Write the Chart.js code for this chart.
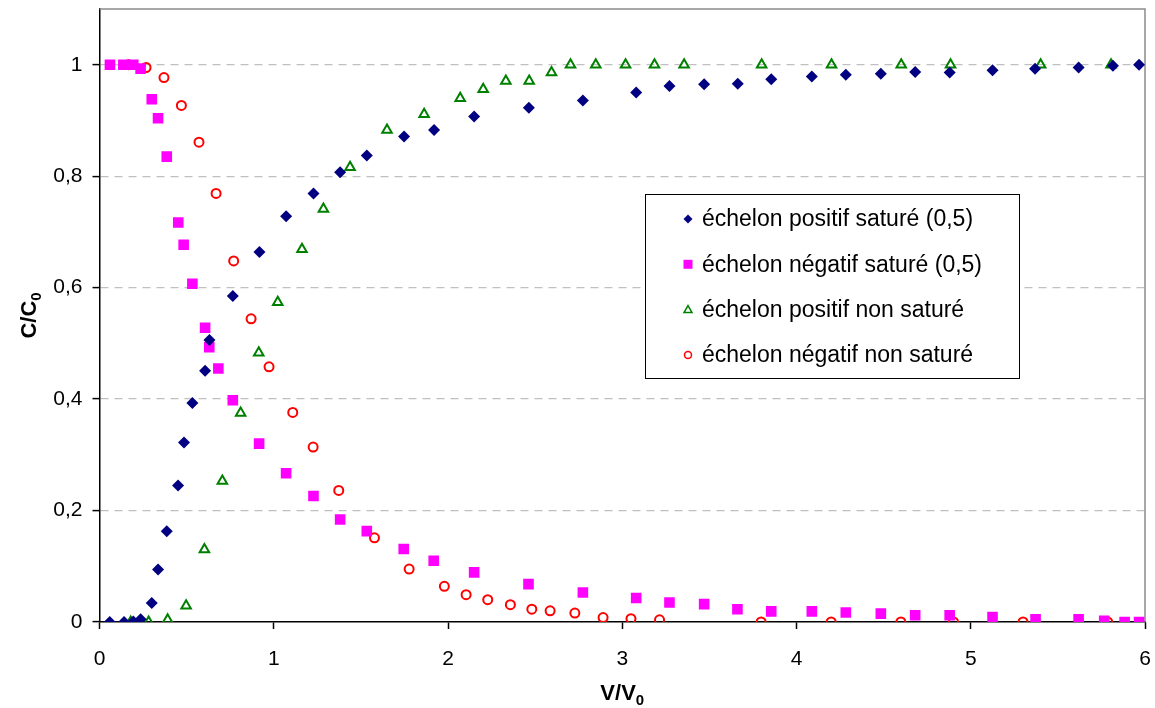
<!DOCTYPE html>
<html>
<head>
<meta charset="utf-8">
<script src="https://cdn.jsdelivr.net/npm/chart.js@4/dist/chart.umd.min.js"></script>
<style>
  html, body { margin: 0; padding: 0; background: #fff; }
  #wrap { width: 1155px; height: 708px; position: relative; }
</style>
</head>
<body>
<div id="wrap"><canvas id="myChart"></canvas></div>
<script>
// --- données ---
const posSatX = [0.059, 0.141, 0.194, 0.236, 0.30, 0.336, 0.386, 0.451, 0.485, 0.533, 0.606, 0.631, 0.765, 0.918, 1.071, 1.228, 1.381, 1.534, 1.748, 1.920, 2.150, 2.464, 2.774, 3.080, 3.271, 3.470, 3.663, 3.855, 4.088, 4.283, 4.484, 4.681, 4.879, 5.125, 5.369, 5.619, 5.816, 5.966];
const posSatY = [0, 0, 0.001, 0.005, 0.034, 0.094, 0.163, 0.245, 0.322, 0.393, 0.451, 0.506, 0.585, 0.664, 0.728, 0.769, 0.807, 0.837, 0.871, 0.883, 0.907, 0.923, 0.936, 0.950, 0.962, 0.965, 0.966, 0.974, 0.979, 0.982, 0.984, 0.987, 0.986, 0.990, 0.993, 0.995, 0.998, 1.0];

const negSatX = [0.060, 0.137, 0.194, 0.236, 0.300, 0.336, 0.386, 0.452, 0.483, 0.533, 0.606, 0.630, 0.682, 0.765, 0.916, 1.071, 1.228, 1.381, 1.534, 1.746, 1.918, 2.150, 2.462, 2.774, 3.080, 3.271, 3.470, 3.661, 3.855, 4.088, 4.283, 4.484, 4.681, 4.879, 5.125, 5.372, 5.619, 5.766, 5.883, 5.966];
const negSatY = [1.0, 1.0, 1.0, 0.993, 0.938, 0.904, 0.835, 0.717, 0.677, 0.607, 0.528, 0.493, 0.455, 0.398, 0.320, 0.267, 0.226, 0.184, 0.163, 0.131, 0.110, 0.089, 0.068, 0.053, 0.043, 0.035, 0.032, 0.023, 0.019, 0.019, 0.017, 0.015, 0.012, 0.012, 0.009, 0.005, 0.005, 0.002, 0, 0];

const posNonX = [0.179, 0.282, 0.391, 0.497, 0.602, 0.705, 0.810, 0.914, 1.023, 1.162, 1.285, 1.438, 1.650, 1.863, 2.070, 2.202, 2.332, 2.466, 2.594, 2.703, 2.848, 3.019, 3.185, 3.355, 3.800, 4.201, 4.601, 4.884, 5.401, 5.805];
const posNonY = [0, 0, 0.004, 0.029, 0.130, 0.253, 0.375, 0.483, 0.574, 0.669, 0.741, 0.816, 0.883, 0.911, 0.940, 0.956, 0.971, 0.971, 0.986, 1.0, 1.0, 1.0, 1.0, 1.0, 1.0, 1.0, 1.0, 1.0, 1.0, 1.0];

const negNonX = [0.167, 0.267, 0.370, 0.470, 0.571, 0.669, 0.770, 0.870, 0.973, 1.109, 1.226, 1.373, 1.578, 1.777, 1.979, 2.104, 2.228, 2.358, 2.481, 2.586, 2.728, 2.890, 3.050, 3.214, 3.797, 4.199, 4.599, 4.901, 5.300, 5.786];
const negNonY = [1.0, 0.995, 0.977, 0.927, 0.861, 0.769, 0.648, 0.544, 0.458, 0.376, 0.314, 0.236, 0.151, 0.095, 0.064, 0.049, 0.040, 0.031, 0.023, 0.020, 0.016, 0.008, 0.006, 0.004, 0, 0, 0, 0, 0, 0];

const seriesLabels = ['échelon positif saturé (0,5)', 'échelon négatif saturé (0,5)', 'échelon positif non saturé', 'échelon négatif non saturé'];
const xTicks = [0, 1, 2, 3, 4, 5, 6];
const yTicks = [0, 0.2, 0.4, 0.6, 0.8, 1];

const toPoints = (xs, ys) => xs.map((x, i) => ({ x: x, y: ys[i] }));
const FONT = "'Liberation Sans', Arial, sans-serif";

// cadre gris + titres d'axes avec indice + légende dans la zone du graphique
const decorPlugin = {
    id: 'decor',
    beforeDatasetsDraw(chart) {
        const { ctx, chartArea: a } = chart;
        ctx.save();
        ctx.strokeStyle = '#8c8c8c';
        ctx.lineWidth = 1.5;
        ctx.beginPath();
        ctx.moveTo(a.left, a.top);
        ctx.lineTo(a.right, a.top);
        ctx.lineTo(a.right, a.bottom);
        ctx.stroke();
        ctx.restore();
    },
    afterDraw(chart) {
        const { ctx, chartArea: a } = chart;
        ctx.save();
        ctx.fillStyle = '#000';
        ctx.textBaseline = 'alphabetic';

        // titres des axes (avec indice 0)
        const drawSub = (main, sub, cx, cy) => {
            ctx.font = 'bold 22px ' + FONT;
            const w1 = ctx.measureText(main).width;
            ctx.font = 'bold 15px ' + FONT;
            const w2 = ctx.measureText(sub).width;
            const x0 = cx - (w1 + w2) / 2;
            ctx.font = 'bold 22px ' + FONT;
            ctx.textAlign = 'left';
            ctx.fillText(main, x0, cy);
            ctx.font = 'bold 15px ' + FONT;
            ctx.fillText(sub, x0 + w1, cy + 5);
        };
        drawSub('V/V', '0', (a.left + a.right) / 2, 700);
        ctx.save();
        ctx.translate(36, (a.top + a.bottom) / 2);
        ctx.rotate(-Math.PI / 2);
        drawSub('C/C', '0', 0, 0);
        ctx.restore();

        // légende
        const lx = 645, ly = 194, lw = 374, lh = 184;
        ctx.fillStyle = '#fff';
        ctx.fillRect(lx, ly, lw, lh);
        ctx.strokeStyle = '#000';
        ctx.lineWidth = 1;
        ctx.strokeRect(lx + 0.5, ly + 0.5, lw, lh);
        chart.data.datasets.forEach((ds, i) => {
            const y = 219 + i * 45.3;
            const mx = 688;
            ctx.beginPath();
            ctx.fillStyle = ds.pointBackgroundColor;
            ctx.strokeStyle = ds.pointBorderColor;
            ctx.lineWidth = 1.5;
            if (ds.pointStyle === 'rectRot') {
                ctx.moveTo(mx - 4.5, y); ctx.lineTo(mx, y - 4.5); ctx.lineTo(mx + 4.5, y); ctx.lineTo(mx, y + 4.5);
                ctx.closePath(); ctx.fill();
            } else if (ds.pointStyle === 'rect') {
                ctx.rect(mx - 4.5, y - 4.5, 9, 9); ctx.fill();
            } else if (ds.pointStyle === 'triangle') {
                ctx.moveTo(mx, y - 4); ctx.lineTo(mx + 4, y + 3); ctx.lineTo(mx - 4, y + 3);
                ctx.closePath(); ctx.stroke();
            } else {
                ctx.arc(mx, y, 3.5, 0, Math.PI * 2); ctx.stroke();
            }
            ctx.fillStyle = '#000';
            ctx.font = '23px ' + FONT;
            ctx.textAlign = 'left';
            ctx.textBaseline = 'middle';
            ctx.fillText(ds.label, 702, y + 1);
        });
        ctx.restore();
    }
};

const makeSet = (i, xs, ys, style, color, filled, radius) => ({
    label: seriesLabels[i],
    data: toPoints(xs, ys),
    pointStyle: style,
    pointRadius: radius,
    pointHoverRadius: radius,
    pointBackgroundColor: filled ? color : 'rgba(0,0,0,0)',
    pointBorderColor: color,
    pointBorderWidth: filled ? 0 : 2,
    showLine: false
});

new Chart(document.getElementById('myChart'), {
    type: 'scatter',
    data: {
        datasets: [
            makeSet(0, posSatX, posSatY, 'rectRot', '#000080', true, 6),
            makeSet(1, negSatX, negSatY, 'rect', '#ff00ff', true, 7.5),
            makeSet(2, posNonX, posNonY, 'triangle', '#008000', false, 5.5),
            makeSet(3, negNonX, negNonY, 'circle', '#ff0000', false, 4.5)
        ]
    },
    options: {
        responsive: true,
        maintainAspectRatio: false,
        animation: false,
        layout: { padding: { top: 9, right: 10, left: 0, bottom: 0 } },
        plugins: { legend: { display: false }, tooltip: { enabled: false } },
        scales: {
            x: {
                type: 'linear',
                min: 0, max: 6,
                afterBuildTicks: (axis) => { axis.ticks = xTicks.map(v => ({ value: v })); },
                afterFit: (scale) => { scale.height = 86; scale.paddingLeft = 0; scale.paddingRight = 0; },
                grid: { drawOnChartArea: false, drawTicks: true, tickLength: 7, tickColor: '#000', tickWidth: 1.5 },
                border: { color: '#000', width: 1.5 },
                ticks: { color: '#000', font: { family: FONT, size: 21 }, padding: 18, maxRotation: 0 }
            },
            y: {
                type: 'linear',
                min: 0, max: 1.1,
                afterBuildTicks: (axis) => { axis.ticks = yTicks.map(v => ({ value: v })); },
                afterFit: (scale) => { scale.width = 99.5; scale.paddingTop = 0; scale.paddingBottom = 0; },
                grid: {
                    color: (c) => c.tick && c.tick.value === 0 ? 'rgba(0,0,0,0)' : '#c0c0c0',
                    lineWidth: 1.2,
                    drawTicks: true, tickLength: 7, tickColor: '#000', tickWidth: 1.5, tickBorderDash: []
                },
                border: { color: '#000', width: 1.5, dash: [8, 6] },
                ticks: {
                    color: '#000', font: { family: FONT, size: 21 }, padding: 10,
                    callback: (v) => String(v).replace('.', ',')
                }
            }
        }
    },
    plugins: [decorPlugin]
});
</script>
</body>
</html>
